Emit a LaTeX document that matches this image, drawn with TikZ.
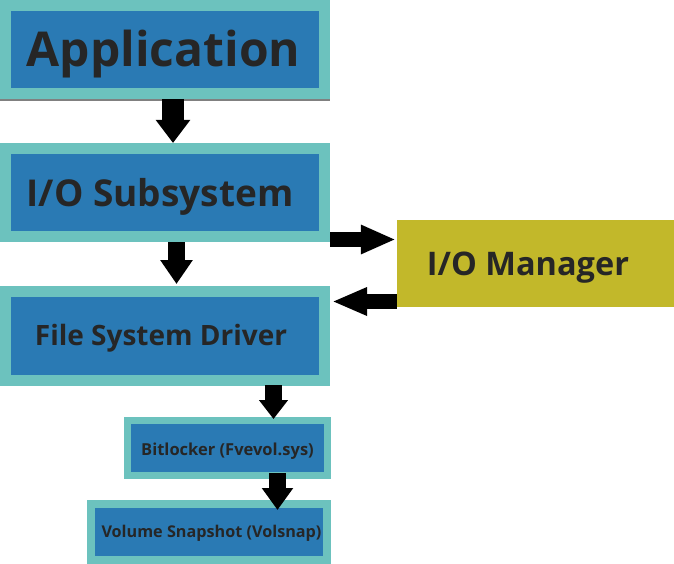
\documentclass[tikz,border=0pt]{standalone}
\usepackage{fontspec}
\usepackage{graphicx}
\setmainfont{Open Sans}
\usepackage{tikz}
\usetikzlibrary{arrows.meta}

\definecolor{boxteal}{HTML}{6CC2BE}
\definecolor{boxblue}{HTML}{2A7AB4}
\definecolor{mgrolive}{HTML}{C2B82A}
\definecolor{txtgray}{HTML}{262626}

\tikzset{
    layer/.style={rectangle, fill=boxblue, draw=boxteal, text=txtgray, font=\bfseries, text depth=0pt},
    flow/.style={line width=17pt, -{Triangle[width=30pt,length=22pt]}}
}

\begin{document}
\begin{tikzpicture}[x=1pt,y=-1pt]
    \useasboundingbox (0,0) rectangle (674,564);
    % the layers
    \fill[gray] (0,98) rectangle (330,101);
    \node[layer, line width=11pt, minimum width=319pt, minimum height=88pt, text height=35pt] (app) at (165,49.5)
        {\hspace*{-3pt}\fontsize{48}{48}\selectfont Application};
    \node[layer, line width=11pt, minimum width=319pt, minimum height=88pt, text height=27pt] (iosub) at (165,192.5)
        {\hspace*{-10pt}\fontsize{37}{37}\selectfont I/O Subsystem};
    \node[layer, line width=11pt, minimum width=319pt, minimum height=89pt, text height=18pt] (fsd) at (165,336)
        {\hspace*{-8pt}\fontsize{28}{28}\selectfont File System Driver};
    \node[layer, line width=7pt, minimum width=200pt, minimum height=55pt, text height=14pt] (bitl) at (227.5,448)
        {\fontsize{16.5}{16.5}\selectfont Bitlocker (Fvevol.sys)};
    \node[layer, line width=8pt, minimum width=236pt, minimum height=56pt, text height=10pt] (vol) at (209,532)
        {\hspace*{5pt}\fontsize{16.2}{16.2}\selectfont Volume Snapshot (Volsnap)};
    \node[rectangle, fill=mgrolive, text=txtgray, font=\bfseries, minimum width=277pt, minimum height=87pt, text height=23pt, text depth=0pt] (iom) at (535.5,263.5)
        {\hspace*{-15pt}\fontsize{32.5}{32.5}\selectfont I/O Manager};
    % the arrows
    \draw[flow, line width=22pt, -{Triangle[width=33pt,length=23pt]}] ([xshift=8pt]app.south) -- ([xshift=8pt]iosub.north);
    \draw[flow, -{Triangle[width=31pt,length=24pt]}] ([xshift=11.5pt]iosub.south) -- ([xshift=11.5pt,yshift=2pt]fsd.north);
    \draw[flow, line width=15pt, -{Triangle[width=27pt,length=35pt]}] ([yshift=-47pt]iosub.east) -- ([yshift=24pt,xshift=-1pt]iom.west);
    \draw[flow, line width=15pt, -{Triangle[width=26pt,length=35pt]}] ([yshift=-38pt]iom.west) -- ([yshift=34.5pt,xshift=2pt]fsd.east);
    \draw[flow, -{Triangle[width=28pt,length=19pt]}] ([xshift=108.5pt,yshift=1pt]fsd.south) -- ([xshift=46pt,yshift=-2pt]bitl.north);
    \draw[flow] ([xshift=50pt,yshift=6pt]bitl.south) -- ([xshift=68.5pt,yshift=-10pt]vol.north);
\end{tikzpicture}
\end{document}
